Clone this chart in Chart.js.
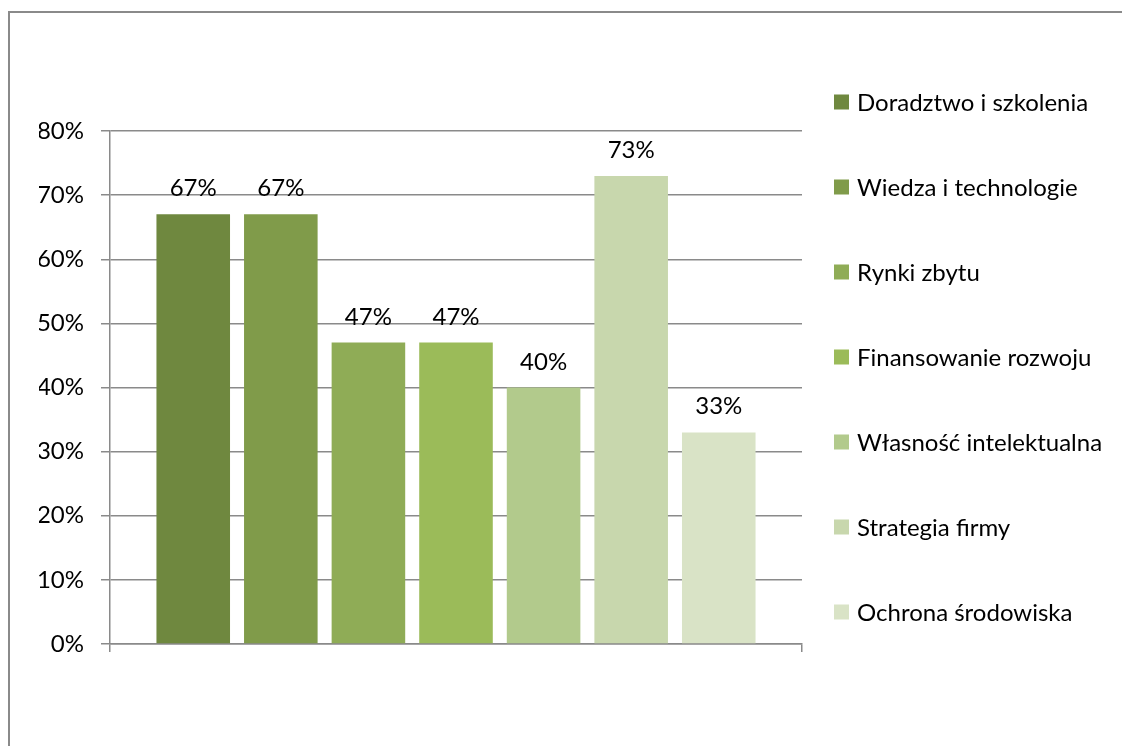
<!DOCTYPE html>
<html lang="pl">
<head>
<meta charset="utf-8">
<title>Obszary wsparcia</title>
<script src="https://cdn.jsdelivr.net/npm/chart.js@4/dist/chart.umd.min.js"></script>
<style>
  html, body { margin: 0; padding: 0; background: #fff; overflow: hidden; }
  #frame {
    position: absolute; left: 8px; top: 11px;
    width: 1300px; height: 900px;
    border: 2px solid #8a8a8a;
  }
  #wrap { position: absolute; left: 0; top: 0; width: 1122px; height: 746px; }
</style>
</head>
<body>
<div id="frame"></div>
<div id="wrap"><canvas id="chart"></canvas></div>
<script>
// dane
const serie = [
  'Doradztwo i szkolenia',
  'Wiedza i technologie',
  'Rynki zbytu',
  'Finansowanie rozwoju',
  'Własność intelektualna',
  'Strategia firmy',
  'Ochrona środowiska'
];
const wartosci = [67, 67, 47, 47, 40, 73, 33];
const kolory = ['#6f883f', '#809b4a', '#8fac56', '#9bbb59', '#b2ca8c', '#c8d7ad', '#d9e3c6'];
const kategorie = [''];
const osY = { min: 0, max: 80, krok: 10 };

const FONT = { family: 'Lato', size: 24 };
const SZARY = '#8a8a8a';

// etykiety wartości nad słupkami
const etykietyPlugin = {
  id: 'etykiety',
  afterDatasetsDraw(chart) {
    const ctx = chart.ctx;
    ctx.save();
    ctx.font = `${FONT.size}px ${FONT.family}`;
    ctx.fillStyle = '#000';
    ctx.textAlign = 'center';
    ctx.textBaseline = 'alphabetic';
    chart.data.datasets.forEach((ds, i) => {
      const meta = chart.getDatasetMeta(i);
      meta.data.forEach((bar, j) => {
        ctx.fillText(ds.data[j] + '%', bar.x, bar.y - 18);
      });
    });
    ctx.restore();
  }
};

// legenda po prawej stronie
const legendaPlugin = {
  id: 'legenda',
  afterDraw(chart) {
    const ctx = chart.ctx;
    const x0 = 834, y0 = 102, odstep = 85, kw = 15;
    ctx.save();
    ctx.font = `${FONT.size}px ${FONT.family}`;
    ctx.textBaseline = 'middle';
    ctx.textAlign = 'left';
    chart.data.datasets.forEach((ds, i) => {
      const y = y0 + i * odstep;
      ctx.fillStyle = ds.backgroundColor;
      ctx.fillRect(x0, y - kw / 2, kw, kw);
      ctx.fillStyle = '#000';
      ctx.fillText(ds.label, x0 + 23, y + 1);
    });
    ctx.restore();
  }
};

document.addEventListener('DOMContentLoaded', function () {
  const ctx = document.getElementById('chart');

  new Chart(ctx.getContext('2d'), {
    type: 'bar',
    data: {
      labels: kategorie,
      datasets: serie.map((nazwa, i) => ({
        label: nazwa,
        data: [wartosci[i]],
        backgroundColor: kolory[i],
        borderWidth: 0
      }))
    },
    options: {
      responsive: true,
      maintainAspectRatio: false,
      animation: false,
      categoryPercentage: 0.886,
      barPercentage: 0.84,
      layout: { padding: { left: 39, top: 131, right: 320, bottom: 94 } },
      plugins: {
        legend: { display: false },
        tooltip: { enabled: false }
      },
      scales: {
        x: {
          grid: {
            display: true,
            drawOnChartArea: false,
            drawTicks: true,
            tickLength: 8,
            color: SZARY,
            lineWidth: 1.5
          },
          border: { display: true, color: SZARY, width: 1.5 },
          ticks: { display: false },
          afterFit: s => { s.height = 8; }
        },
        y: {
          min: osY.min,
          max: osY.max,
          grid: {
            color: SZARY,
            lineWidth: 1.5,
            tickLength: 9
          },
          border: { display: true, color: SZARY, width: 1.5 },
          ticks: {
            stepSize: osY.krok,
            padding: 17,
            color: '#000',
            font: FONT,
            callback: v => v + '%'
          },
          afterFit: s => { s.width = 71; }
        }
      }
    },
    plugins: [etykietyPlugin, legendaPlugin]
  });
});
</script>
</body>
</html>
